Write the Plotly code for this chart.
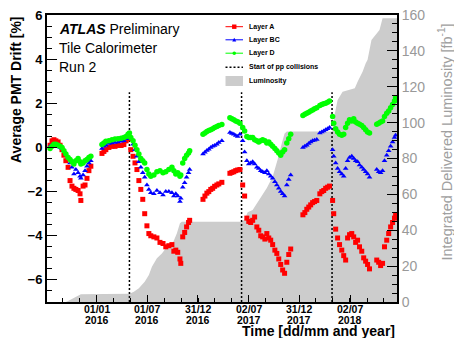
import plotly.graph_objects as go

FONT = "Liberation Sans, Arial, Helvetica, sans-serif"

# ---------------- PMT drift per layer, by data-taking period ----------------
dates_2015 = ["2015-07-17", "2015-07-24", "2015-07-31", "2015-08-07", "2015-08-15", "2015-08-22",
              "2015-08-29", "2015-09-05", "2015-09-12", "2015-09-20", "2015-09-27", "2015-10-04",
              "2015-10-11", "2015-10-18", "2015-10-26", "2015-11-02", "2015-11-05", "2015-11-13",
              "2015-11-20", "2015-11-27", "2015-12-04", "2015-12-11"]
layer_a_2015 = [0.1, 0.3, 0.35, 0.3, 0.25, 0.1, -0.1, -0.35, -0.6, -0.9, -1.5, -1.75,
                -1.85, -1.9, -1.95, -2.1, -2.4, -1.75, -1.7, -1.4, -1.05, -0.85]
layer_bc_2015 = [0.05, 0.1, 0.1, 0.1, 0.05, 0.0, -0.05, -0.15, -0.3, -0.45, -0.7, -0.9,
                 -1.2, -1.0, -1.15, -1.3, -1.4, -1.25, -1.05, -0.85, -0.7, -0.6]
layer_d_2015 = [-0.05, 0.05, 0.15, 0.15, 0.1, 0.05, 0.0, -0.15, -0.3, -0.45, -0.55, -0.65,
                -0.75, -0.6, -0.5, -0.65, -0.75, -0.7, -0.6, -0.55, -0.45, -0.4]

dates_2016_pre = ["2016-01-20", "2016-01-27", "2016-02-03", "2016-02-14", "2016-02-25", "2016-03-07",
                  "2016-03-18", "2016-03-29", "2016-04-08", "2016-04-16", "2016-04-23", "2016-04-28"]
layer_a_2016_pre = [-0.27, -0.18, -0.1, 0.0, 0.05, 0.05, 0.09, 0.09, 0.13, 0.3, 0.4, 0.4]
layer_bc_2016_pre = [-0.05, 0.05, 0.1, 0.18, 0.2, 0.22, 0.25, 0.28, 0.3, 0.4, 0.5, 0.55]
layer_d_2016_pre = [0.13, 0.2, 0.28, 0.3, 0.35, 0.38, 0.4, 0.42, 0.45, 0.5, 0.6, 0.65]

dates_2016 = ["2016-05-03", "2016-05-11", "2016-05-18", "2016-05-25", "2016-06-01", "2016-06-08",
              "2016-06-15", "2016-06-22", "2016-06-30", "2016-07-07", "2016-07-14", "2016-07-25",
              "2016-08-05", "2016-08-16", "2016-08-27", "2016-09-06", "2016-09-17", "2016-09-28",
              "2016-10-05", "2016-10-12", "2016-10-19", "2016-10-27", "2016-10-30", "2016-11-06",
              "2016-11-13", "2016-11-20", "2016-11-27", "2016-12-01"]
layer_a_2016 = [-0.1, -0.4, -0.7, -1.0, -1.5, -1.9, -2.35, -3.0, -3.55, -3.9, -4.0, -4.05,
                -4.1, -4.3, -4.35, -4.5, -4.45, -4.4, -4.7, -4.65, -4.75, -5.05, -5.25, -4.05,
                -3.85, -3.6, -3.4, -3.3]
layer_bc_2016 = [0.4, 0.15, -0.1, -0.4, -0.65, -0.9, -1.15, -1.35, -1.7, -1.9, -2.05, -2.1,
                 -1.95, -2.05, -2.15, -2.0, -2.0, -2.05, -2.2, -2.1, -2.2, -2.45, -2.3, -1.8,
                 -1.6, -1.35, -1.15, -1.0]
layer_d_2016 = [0.45, 0.3, 0.1, -0.1, -0.3, -0.5, -0.6, -0.7, -1.0, -1.2, -1.3, -1.25,
                -1.1, -1.05, -1.15, -1.1, -1.0, -0.9, -1.05, -1.2, -1.15, -1.3, -1.25, -0.7,
                -0.5, -0.35, -0.25, -0.15]

dates_2017_pre = ["2017-01-18", "2017-01-25", "2017-02-01", "2017-02-08", "2017-02-15", "2017-02-22",
                  "2017-03-01", "2017-03-09", "2017-03-16", "2017-03-27", "2017-04-25", "2017-05-02",
                  "2017-05-09", "2017-05-16", "2017-05-23", "2017-05-31"]
layer_a_2017_pre = [-2.35, -2.2, -2.07, -2.0, -1.9, -1.85, -1.76, -1.7, -1.65, -1.58, -1.17, -1.13,
                    -1.1, -1.05, -1.02, -1.0]
layer_bc_2017_pre = [-0.3, -0.22, -0.14, -0.08, 0.0, 0.05, 0.09, 0.15, 0.22, 0.3, 0.68, 0.63,
                     0.6, 0.54, 0.5, 0.6]
layer_d_2017_pre = [0.6, 0.66, 0.72, 0.77, 0.8, 0.85, 0.9, 0.95, 1.0, 1.04, 1.35, 1.3,
                    1.25, 1.2, 1.17, 1.1]

dates_2017 = ["2017-06-10", "2017-06-17", "2017-06-25", "2017-07-02", "2017-07-09", "2017-07-16",
              "2017-07-23", "2017-07-31", "2017-08-07", "2017-08-14", "2017-08-21", "2017-08-29",
              "2017-09-05", "2017-09-12", "2017-09-19", "2017-09-26", "2017-10-04", "2017-10-11",
              "2017-10-18", "2017-10-25", "2017-11-01", "2017-11-08", "2017-11-16", "2017-11-23",
              "2017-11-30"]
layer_a_2017 = [-1.7, -2.2, -3.2, -3.35, -3.4, -3.3, -3.15, -3.6, -3.75, -4.0, -4.05, -4.15,
                -3.9, -4.1, -4.2, -4.4, -4.65, -4.8, -5.05, -5.3, -5.55, -5.7, -5.2, -4.85, -4.6]
layer_bc_2017 = [0.3, -0.2, -0.6, -0.75, -0.7, -0.65, -0.75, -0.9, -0.95, -1.05, -1.1, -1.15,
                 -1.05, -1.2, -1.3, -1.4, -1.55, -1.7, -1.85, -2.0, -2.1, -2.2, -1.7, -1.45, -1.25]
layer_d_2017 = [0.9, 0.75, 0.5, 0.45, 0.45, 0.45, 0.35, 0.3, 0.25, 0.3, 0.35, 0.3,
                0.2, 0.25, 0.15, 0.05, -0.05, -0.15, -0.25, -0.35, -0.2, -0.1, 0.2, 0.4, 0.6]

dates_2018_pre = ["2018-01-13", "2018-01-20", "2018-01-27", "2018-02-03", "2018-02-10", "2018-02-17",
                  "2018-02-24", "2018-03-04", "2018-03-15", "2018-03-22", "2018-03-29", "2018-04-05",
                  "2018-04-12", "2018-04-19"]
layer_a_2018_pre = [-3.05, -2.95, -2.8, -2.7, -2.6, -2.5, -2.45, -2.4, -2.1, -2.0, -1.95, -1.85,
                    -1.8, -1.75]
layer_bc_2018_pre = [0.0, 0.05, 0.1, 0.18, 0.25, 0.3, 0.33, 0.36, 0.65, 0.7, 0.75, 0.8, 0.85, 0.9]
layer_d_2018_pre = [1.45, 1.5, 1.55, 1.6, 1.65, 1.7, 1.75, 1.8, 1.9, 1.95, 1.98, 2.0, 2.05, 2.1]

dates_2018 = ["2018-04-30", "2018-05-04", "2018-05-11", "2018-05-18", "2018-05-25", "2018-06-02",
              "2018-06-09", "2018-06-16", "2018-06-23", "2018-06-30", "2018-07-08", "2018-07-15",
              "2018-07-22", "2018-07-29", "2018-08-05", "2018-08-13", "2018-08-20", "2018-08-27",
              "2018-09-03", "2018-09-10", "2018-10-06", "2018-10-13", "2018-10-20", "2018-10-27",
              "2018-11-03", "2018-11-11", "2018-11-18", "2018-11-25", "2018-12-02", "2018-12-09",
              "2018-12-13"]
layer_a_2018 = [-2.4, -3.0, -3.7, -4.1, -4.4, -4.65, -4.9, -5.1, -4.1, -3.95, -3.9, -4.05,
                -4.3, -4.2, -4.5, -4.7, -5.0, -5.15, -5.3, -5.5, -5.1, -5.2, -5.35, -5.25,
                -4.5, -4.2, -3.9, -3.6, -3.4, -3.2, -3.05]
layer_bc_2018 = [-0.1, -0.4, -0.7, -0.95, -1.1, -1.2, -1.3, -0.95, -0.6, -0.45, -0.4, -0.5,
                 -0.6, -0.65, -0.8, -0.9, -1.0, -1.1, -1.2, -1.35, -1.0, -1.1, -1.15, -1.05,
                 -0.6, -0.35, -0.15, 0.05, 0.25, 0.45, 0.55]
layer_d_2018 = [1.4, 1.1, 0.85, 0.7, 0.6, 0.55, 0.6, 0.9, 1.1, 1.25, 1.2, 1.3,
                1.15, 1.1, 1.05, 1.0, 0.9, 0.8, 0.7, 0.65, 1.05, 1.1, 1.15, 1.2,
                1.4, 1.55, 1.65, 1.8, 1.95, 2.1, 2.25]

# ---------------- integrated delivered luminosity [fb^-1] ----------------
lumi_dates = ["2015-07-06", "2015-09-12", "2015-09-20", "2015-10-04", "2015-10-18", "2015-11-05",
              "2016-04-28", "2016-05-14", "2016-06-01", "2016-06-22", "2016-07-07", "2016-07-18",
              "2016-08-05", "2016-08-23", "2016-09-10", "2016-10-01", "2016-10-16", "2016-10-27",
              "2016-11-03", "2017-06-06", "2017-06-17", "2017-06-28", "2017-07-16", "2017-08-10",
              "2017-09-05", "2017-09-26", "2017-10-04", "2017-10-15", "2017-10-29", "2017-11-08",
              "2017-11-16", "2018-04-28", "2018-05-08", "2018-05-18", "2018-06-05", "2018-07-19",
              "2018-07-29", "2018-08-16", "2018-08-27", "2018-09-03", "2018-09-17", "2018-10-16",
              "2018-10-27", "2018-12-18"]
lumi_values = [0, 0, 0.6, 1.8, 3.0, 4.3,
               4.6, 5.7, 7.6, 11.3, 15, 19.7,
               24.4, 27, 30.8, 32.7, 38.3, 43.9,
               44.8, 44.8, 46, 50, 51.3, 57,
               63.5, 69.8, 73.6, 80, 88.5, 94,
               95, 95, 105, 112.6, 117.2, 119.1,
               122.8, 128.4, 133, 135, 146, 151.6,
               158.2, 158.2]

# first stable pp beams of each year
collision_dates = ["2016-04-28", "2017-06-06", "2018-04-28"]
collision_span = [-7, 2.5]

x_range = ["2015-07-06", "2018-12-18"]
tick_dates = ["2016-01-01", "2016-07-01", "2016-12-31", "2017-07-02", "2017-12-31", "2018-07-02"]
tick_days = ["01/01", "01/07", "31/12", "02/07", "31/12", "02/07"]
tick_years = ["2016", "2016", "2016", "2017", "2017", "2018"]

periods = [
    (dates_2015, layer_a_2015, layer_bc_2015, layer_d_2015),
    (dates_2016_pre, layer_a_2016_pre, layer_bc_2016_pre, layer_d_2016_pre),
    (dates_2016, layer_a_2016, layer_bc_2016, layer_d_2016),
    (dates_2017_pre, layer_a_2017_pre, layer_bc_2017_pre, layer_d_2017_pre),
    (dates_2017, layer_a_2017, layer_bc_2017, layer_d_2017),
    (dates_2018_pre, layer_a_2018_pre, layer_bc_2018_pre, layer_d_2018_pre),
    (dates_2018, layer_a_2018, layer_bc_2018, layer_d_2018),
]

all_dates, all_a, all_bc, all_d = [], [], [], []
for d, a, bc, dd in periods:
    all_dates += d
    all_a += a
    all_bc += bc
    all_d += dd

RED, BLUE, GREEN, GREY = "#ff0000", "#0000ff", "#00ff00", "#cccccc"

fig = go.Figure()

# luminosity band on the main (right-hand) axis so it sits underneath
fig.add_trace(go.Scatter(x=lumi_dates, y=lumi_values, mode="lines", fill="tozeroy",
                         fillcolor=GREY, line=dict(width=0, color=GREY),
                         xaxis="x", yaxis="y", hoverinfo="skip"))

# start-of-collisions markers
cx, cy = [], []
for d in collision_dates:
    cx += [d, d, None]
    cy += [collision_span[0], collision_span[1], None]
fig.add_trace(go.Scatter(x=cx, y=cy, mode="lines", yaxis="y2",
                         line=dict(color="black", width=1.5, dash="2px,2px")))

fig.add_trace(go.Scatter(x=all_dates, y=all_a, mode="markers", yaxis="y2", name="Layer A",
                         marker=dict(symbol="square", size=5, color=RED)))
fig.add_trace(go.Scatter(x=all_dates, y=all_bc, mode="markers", yaxis="y2", name="Layer BC",
                         marker=dict(symbol="triangle-up", size=5, color=BLUE)))
fig.add_trace(go.Scatter(x=all_dates, y=all_d, mode="markers", yaxis="y2", name="Layer D",
                         marker=dict(symbol="circle", size=5.5, color=GREEN)))

# plot area in pixels
L, R, T, B = 47, 397, 15, 302


def px(x):
    return (x - L) / (R - L)


def py(y):
    return (B - y) / (B - T)


shapes = []
annotations = []

# hand-built legend
leg_x0, leg_x1, leg_tx = 225.5, 243, 247
legend_rows = [("Layer A", 26.7), ("Layer BC", 39.8), ("Layer D", 53.2),
               ("Start of pp collisions", 67.2), ("Luminosity", 81)]
line_rows = [(RED, 26.7), (BLUE, 39.8), (GREEN, 53.2)]
for col, yy in line_rows:
    shapes.append(dict(type="line", xref="paper", yref="paper", x0=px(leg_x0), x1=px(leg_x1),
                       y0=py(yy), y1=py(yy), line=dict(color=col, width=1)))
xm = (leg_x0 + leg_x1) / 2
shapes.append(dict(type="rect", xref="paper", yref="paper", x0=px(xm - 2.2), x1=px(xm + 2.2),
                   y0=py(26.7 + 2.2), y1=py(26.7 - 2.2), fillcolor=RED, line=dict(width=0)))
shapes.append(dict(type="path", xref="paper", yref="paper",
                   path="M {} {} L {} {} L {} {} Z".format(px(xm - 2), py(39.8 + 1.6), px(xm + 2),
                                                           py(39.8 + 1.6), px(xm), py(39.8 - 2)),
                   fillcolor=BLUE, line=dict(width=0)))
shapes.append(dict(type="circle", xref="paper", yref="paper", x0=px(xm - 1.8), x1=px(xm + 1.8),
                   y0=py(53.2 + 1.8), y1=py(53.2 - 1.8), fillcolor=GREEN, line=dict(width=0)))
shapes.append(dict(type="line", xref="paper", yref="paper", x0=px(leg_x0), x1=px(leg_x1),
                   y0=py(67.2), y1=py(67.2), line=dict(color="black", width=1.5, dash="2px,2px")))
shapes.append(dict(type="rect", xref="paper", yref="paper", x0=px(leg_x0), x1=px(leg_x1),
                   y0=py(86), y1=py(76), fillcolor=GREY, line=dict(width=0)))
for txt, yy in legend_rows:
    annotations.append(dict(text="<b>%s</b>" % txt, xref="paper", yref="paper", x=px(leg_tx), y=py(yy),
                            xanchor="left", yanchor="middle", showarrow=False,
                            font=dict(family=FONT, size=7, color="black")))

# experiment labels
for txt, yy in [("<b><i>ATLAS</i></b> Preliminary", 29), ("Tile Calorimeter", 48), ("Run 2", 67)]:
    annotations.append(dict(text=txt, xref="paper", yref="paper", x=px(57), y=py(yy),
                            xanchor="left", yanchor="middle", showarrow=False,
                            font=dict(family=FONT, size=14, color="black")))

# two-line date labels (dd/mm over year) under each major tick
for d, day, yr in zip(tick_dates, tick_days, tick_years):
    annotations.append(dict(text="<b>%s</b>" % day, xref="x", yref="paper", x=d, y=py(308.5),
                            xanchor="center", yanchor="middle", showarrow=False,
                            font=dict(family=FONT, size=10.5, color="black")))
    annotations.append(dict(text="<b>%s</b>" % yr, xref="x", yref="paper", x=d, y=py(320),
                            xanchor="center", yanchor="middle", showarrow=False,
                            font=dict(family=FONT, size=10.5, color="black")))

# axis titles
annotations.append(dict(text="<b>Average PMT Drift [%]</b>", xref="paper", yref="paper",
                        x=px(16), y=py(90), textangle=-90, showarrow=False,
                        xanchor="center", yanchor="middle",
                        font=dict(family=FONT, size=14, color="black")))
annotations.append(dict(text="Integrated Delivered Luminosity [fb<sup>-1</sup>]", xref="paper",
                        yref="paper", x=px(445.5), y=py(142), textangle=-90, showarrow=False,
                        xanchor="center", yanchor="middle",
                        font=dict(family=FONT, size=14.5, color="#a0a0a0")))
annotations.append(dict(text="<b>Time [dd/mm and year]</b>", xref="paper", yref="paper",
                        x=px(397), y=py(330.5), xanchor="right", yanchor="middle", showarrow=False,
                        font=dict(family=FONT, size=14, color="black")))

fig.update_layout(
    width=454, height=338,
    margin=dict(l=L, r=454 - R, t=T, b=338 - B, autoexpand=False),
    paper_bgcolor="white", plot_bgcolor="white",
    showlegend=False,
    font=dict(family=FONT, color="black"),
    shapes=shapes,
    annotations=annotations,
    xaxis=dict(type="date", range=x_range, tickmode="array", tickvals=tick_dates,
               showticklabels=False,
               ticks="inside", ticklen=7, tickwidth=1, tickcolor="black", automargin=False,
               showline=True, linewidth=2, linecolor="black", mirror=True,
               showgrid=False, zeroline=False,
               minor=dict(ticks="inside", ticklen=4, tickwidth=1, tickcolor="black",
                          tickmode="linear", tick0="2015-07-01", dtick="M2", showgrid=False)),
    yaxis=dict(range=[0, 160], side="right", tickmode="array", tickvals=list(range(0, 161, 20)),
               ticks="inside", ticklen=10, tickwidth=1, tickcolor="black", automargin=False,
               showline=True, linewidth=2, linecolor="black",
               showgrid=False, zeroline=False,
               tickfont=dict(family=FONT, size=14, color="#999999"),
               minor=dict(ticks="inside", ticklen=5, tickwidth=1, tickcolor="black",
                          tickmode="linear", tick0=0, dtick=5, showgrid=False)),
    yaxis2=dict(range=[-7, 6], overlaying="y", side="left", tickmode="array",
                tickvals=[-6, -4, -2, 0, 2, 4, 6], automargin=False,
                ticks="inside", ticklen=10, tickwidth=1, tickcolor="black",
                showline=True, linewidth=2, linecolor="black",
                showgrid=False, zeroline=False,
                tickfont=dict(family=FONT, size=13, weight="bold", color="black"),
                minor=dict(ticks="inside", ticklen=5, tickwidth=1, tickcolor="black",
                           tickmode="linear", tick0=0, dtick=0.5, showgrid=False)),
)

fig.write_html("out.html")
